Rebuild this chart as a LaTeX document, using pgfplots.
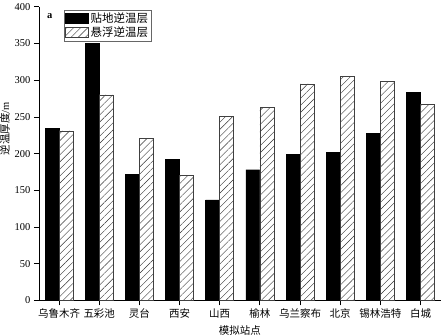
\documentclass[border=0pt]{standalone}
\usepackage{fontspec}
\setmainfont{Liberation Serif}
\newfontfamily\cjk{Noto Sans CJK SC}
\usepackage{pgfplots}
\pgfplotsset{compat=1.18}
\usetikzlibrary{patterns.meta}
\begin{document}
\begin{tikzpicture}
\begin{axis}[
  scale only axis,
  width=401bp, height=293bp,
  ymin=0, ymax=400,
  ytick={0,50,100,150,200,250,300,350,400},
  xmin=-0.5, xmax=9.5,
  xtick={0,1,2,3,4,5,6,7,8,9},
  xticklabels={乌鲁木齐,五彩池,灵台,西安,山西,榆林,乌兰察布,北京,锡林浩特,白城},
  axis x line*=bottom, axis y line*=left,
  axis line style={line width=0.8pt,-},
  tick align=outside,
  major tick length=5bp,
  tick style={line width=0.8pt,black},
  ybar=0pt, bar width=14bp,
  /pgf/number format/assume math mode=true,
  ticklabel style={font=\fontsize{10.5}{12}\selectfont},
  xticklabel style={font=\cjk\fontsize{10.5}{12}\selectfont},
  xlabel={\cjk 模拟站点},
  ylabel={{\cjk 逆温厚度}/m},
  label style={font=\fontsize{10.5}{12}\selectfont, inner sep=0pt},
  xlabel style={at={(axis description cs:0.5,-0.102)}, anchor=center},
  ylabel style={at={(axis description cs:-0.085,0.584)}, anchor=center},
  legend style={at={(axis description cs:0.062,0.99)}, anchor=north west,
    draw=black!60, font=\cjk\fontsize{11.5}{13}\selectfont,
    inner sep=1bp, row sep=-1bp, cells={anchor=west}},
  legend cell align=left,
  area legend,
  legend image code/.code={\draw[#1] (0bp,-4.5bp) rectangle (23bp,5.5bp);},
  clip=false,
]
\addplot[fill=black, draw=black] coordinates {
 (0,234) (1,350) (2,172) (3,192) (4,137) (5,178) (6,199) (7,202) (8,228) (9,283)};
\addplot[fill=white, draw=black!75, line width=0.6pt,
  postaction={pattern={Lines[angle=45,distance=5bp,line width=0.4pt]}, pattern color=black!80}] coordinates {
 (0,231) (1,280) (2,221) (3,170) (4,251) (5,263) (6,295) (7,305) (8,298) (9,267)};
\legend{贴地逆温层,悬浮逆温层}
\node[font=\fontsize{10.5}{12}\selectfont\bfseries, anchor=center] at (axis description cs:0.027,0.969) {a};
\end{axis}
\end{tikzpicture}
\end{document}
